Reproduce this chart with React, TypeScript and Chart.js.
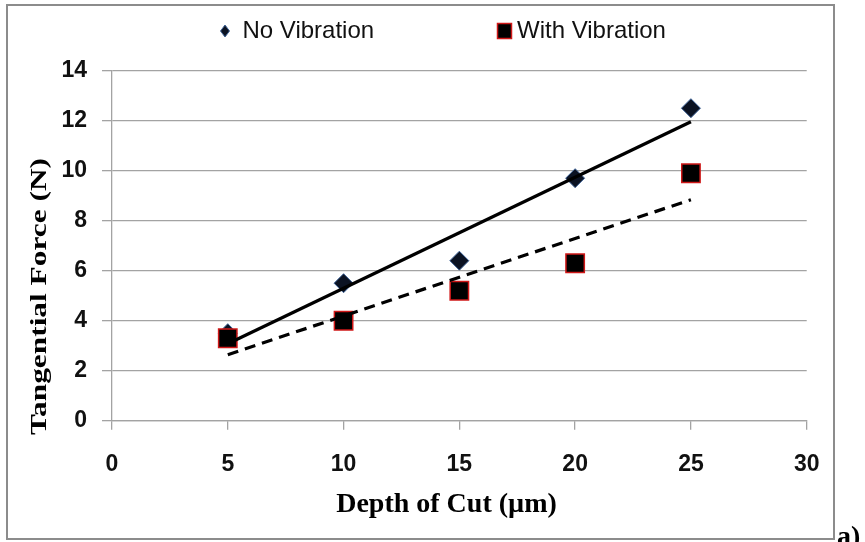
import { useEffect, useRef } from "react";
import { Chart, registerables } from "chart.js";

Chart.register(...registerables);

const depthOfCut = [5, 10, 15, 20, 25];
const noVibration = [3.5, 5.5, 6.4, 9.7, 12.5];
const withVibration = [3.3, 4.0, 5.2, 6.3, 9.9];
const seriesLabels = ["No Vibration", "With Vibration"];
const xTicks = [0, 5, 10, 15, 20, 25, 30];
const yTicks = [0, 2, 4, 6, 8, 10, 12, 14];
const xTitle = "Depth of Cut (µm)";
const yTitle = "Tangential Force (N)";
const panelLabel = "a)";

function linearFit(xs: number[], ys: number[]) {
  const n = xs.length;
  const mx = xs.reduce((a, b) => a + b, 0) / n;
  const my = ys.reduce((a, b) => a + b, 0) / n;
  let sxy = 0;
  let sxx = 0;
  for (let i = 0; i < n; i++) {
    sxy += (xs[i] - mx) * (ys[i] - my);
    sxx += (xs[i] - mx) * (xs[i] - mx);
  }
  const b = sxy / sxx;
  const a = my - b * mx;
  const x0 = Math.min(...xs);
  const x1 = Math.max(...xs);
  return [
    { x: x0, y: a + b * x0 },
    { x: x1, y: a + b * x1 },
  ];
}

const GRID = "#a3a3a3";
const TICK_FONT = { family: "'Liberation Sans', Arial, sans-serif", size: 23, weight: "bold" as const };

const decorPlugin = {
  id: "decor",
  afterDraw(chart: any) {
    const ctx = chart.ctx as CanvasRenderingContext2D;
    ctx.save();
    // outer frame
    ctx.strokeStyle = "#8c8c8c";
    ctx.lineWidth = 2;
    ctx.strokeRect(7, 5, 827, 534);

    // legend
    ctx.fillStyle = "#111";
    ctx.font = "24px 'Liberation Sans', Arial, sans-serif";
    ctx.textBaseline = "alphabetic";
    ctx.textAlign = "left";
    // diamond
    ctx.beginPath();
    ctx.moveTo(225, 25);
    ctx.lineTo(229.5, 31);
    ctx.lineTo(225, 37);
    ctx.lineTo(220.5, 31);
    ctx.closePath();
    ctx.fillStyle = "#0b1222";
    ctx.fill();
    ctx.strokeStyle = "#3f6397";
    ctx.lineWidth = 1;
    ctx.stroke();
    ctx.fillStyle = "#111";
    ctx.fillText(seriesLabels[0], 242.5, 38.3);
    // square
    ctx.fillStyle = "#000";
    ctx.fillRect(497.5, 23.5, 14, 15);
    ctx.strokeStyle = "#d01818";
    ctx.lineWidth = 1.5;
    ctx.strokeRect(497.5, 23.5, 14, 15);
    ctx.fillStyle = "#111";
    ctx.fillText(seriesLabels[1], 517, 38.3);

    // x title
    ctx.fillStyle = "#000";
    ctx.font = "bold 28px 'Liberation Serif', 'Times New Roman', serif";
    ctx.textAlign = "center";
    ctx.fillText(xTitle, 446.5, 511.7);

    // y title (rotated, stretched along its length)
    ctx.font = "bold 23px 'Liberation Serif', 'Times New Roman', serif";
    const w = ctx.measureText(yTitle).width;
    const sx = 277 / w;
    ctx.translate(40, 296.5);
    ctx.rotate(-Math.PI / 2);
    ctx.scale(sx, 1);
    ctx.textBaseline = "middle";
    ctx.fillText(yTitle, 0, 0);
    ctx.setTransform(1, 0, 0, 1, 0, 0);

    // panel label
    ctx.font = "bold 28px 'Liberation Serif', 'Times New Roman', serif";
    ctx.textAlign = "left";
    ctx.textBaseline = "alphabetic";
    ctx.fillText(panelLabel, 837, 545);
    ctx.restore();
  },
};

export default function App() {
  const ref = useRef<HTMLCanvasElement | null>(null);

  useEffect(() => {
    if (!ref.current) return;
    const noVibPts = depthOfCut.map((x, i) => ({ x, y: noVibration[i] }));
    const withVibPts = depthOfCut.map((x, i) => ({ x, y: withVibration[i] }));
    const chart = new Chart(ref.current, {
      type: "scatter",
      data: {
        datasets: [
          {
            type: "line",
            label: seriesLabels[0] + " trend",
            data: linearFit(depthOfCut, noVibration),
            borderColor: "#000",
            borderWidth: 3.2,
            pointRadius: 0,
            fill: false,
            order: 1,
          },
          {
            type: "line",
            label: seriesLabels[1] + " trend",
            data: linearFit(depthOfCut, withVibration),
            borderColor: "#000",
            borderWidth: 3.2,
            borderDash: [11, 7],
            pointRadius: 0,
            fill: false,
            order: 2,
          },
          {
            label: seriesLabels[1],
            data: withVibPts,
            pointStyle: "rect",
            pointRadius: 13,
            backgroundColor: "#000",
            borderColor: "#d01818",
            borderWidth: 1.5,
            order: 3,
          },
          {
            label: seriesLabels[0],
            data: noVibPts,
            pointStyle: "rectRot",
            pointRadius: 9.5,
            backgroundColor: "#0b1222",
            borderColor: "#3f6397",
            borderWidth: 1,
            order: 4,
          },
        ],
      },
      options: {
        responsive: false,
        animation: false,
        devicePixelRatio: 1,
        layout: { padding: { left: 0, top: 70.7, right: 58.3, bottom: 0 } },
        plugins: {
          legend: { display: false },
          tooltip: { enabled: false },
        },
        scales: {
          x: {
            type: "linear",
            position: "bottom",
            min: 0,
            max: 30,
            afterBuildTicks: (s: any) => {
              s.ticks = xTicks.map((v) => ({ value: v }));
            },
            afterFit: (s: any) => {
              s.height = 121.3;
            },
            grid: {
              display: true,
              drawOnChartArea: false,
              drawTicks: true,
              tickLength: 9,
              color: GRID,
              lineWidth: 1.3,
            },
            border: { display: true, color: GRID, width: 1.3 },
            ticks: { padding: 21, color: "#111", font: TICK_FONT },
          },
          y: {
            type: "linear",
            min: 0,
            max: 14,
            afterBuildTicks: (s: any) => {
              s.ticks = yTicks.map((v) => ({ value: v }));
            },
            afterFit: (s: any) => {
              s.width = 112;
            },
            grid: {
              display: true,
              drawTicks: true,
              tickLength: 10,
              color: GRID,
              lineWidth: 1.3,
            },
            border: { display: true, color: GRID, width: 1.3 },
            ticks: { padding: 15, color: "#111", font: TICK_FONT },
          },
        },
      },
      plugins: [decorPlugin],
    });
    return () => chart.destroy();
  }, []);

  return (
    <div style={{ position: "absolute", left: 0, top: 0, width: 865, height: 542, background: "#fff" }}>
      <canvas ref={ref} width={865} height={542} style={{ display: "block" }} />
    </div>
  );
}
